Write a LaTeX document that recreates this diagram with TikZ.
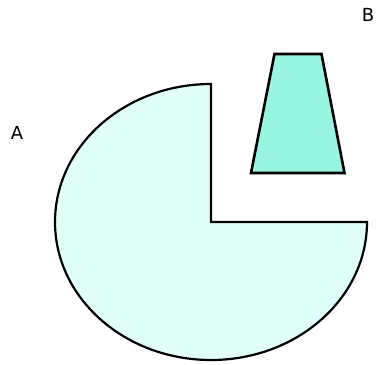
\documentclass[tikz,border=0pt]{standalone}
\usepackage{fontspec}
\setmainfont{DejaVu Sans}
\definecolor{pielight}{HTML}{E0FFF8}
\definecolor{trapfill}{HTML}{98F5E1}
\begin{document}
\begin{tikzpicture}[x=1pt,y=-1pt]
\useasboundingbox (0,0) rectangle (377,364);
\draw[line width=2.2pt, fill=pielight, line join=miter] (211,84) arc[start angle=-90, end angle=-360, x radius=156, y radius=138] -- (211,222) -- cycle;
\draw[line width=2.6pt, fill=trapfill, line join=miter] (274.5,54) -- (321.5,54) -- (344.5,173) -- (251,173) -- cycle;
\node[font=\fontsize{18}{21}\selectfont, inner sep=0pt] (labelA) at (17,133) {A};
\node[font=\fontsize{18}{21}\selectfont, inner sep=0pt] (labelB) at (368,15) {B};
\end{tikzpicture}
\end{document}
